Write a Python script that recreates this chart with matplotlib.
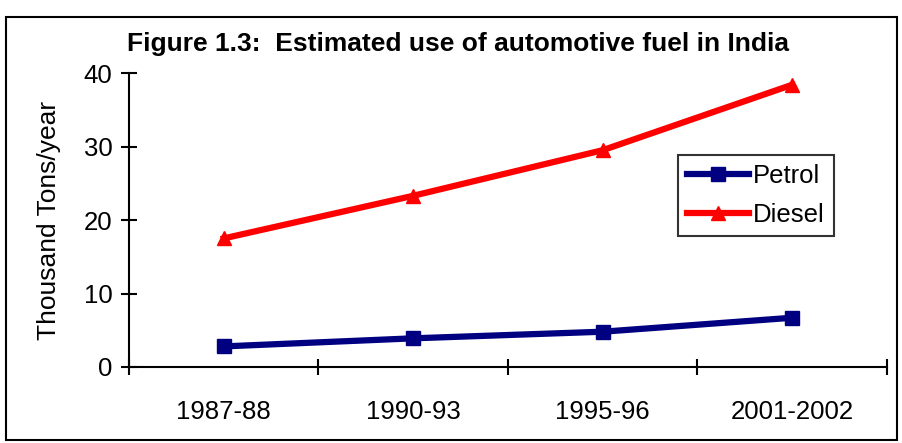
import matplotlib
matplotlib.use("Agg")
import matplotlib.pyplot as plt
from matplotlib.patches import Rectangle

plt.rcParams['font.family'] = ['Liberation Sans', 'DejaVu Sans']

years = ['1987-88', '1990-93', '1995-96', '2001-2002']
petrol = [2.8, 3.9, 4.8, 6.7]
diesel = [17.5, 23.3, 29.5, 38.4]

fig = plt.figure(figsize=(9.02, 4.43), dpi=100)
ax = fig.add_axes([0.143, 0.1716, 0.840, 0.6634])

x = list(range(len(years)))
ax.plot(x, petrol, color='#000080', lw=4.5, marker='s', ms=10, label='Petrol')
ax.plot(x, diesel, color='#FF0000', lw=4.5, marker='^', ms=10, label='Diesel')

ax.set_xlim(-0.5, len(years) - 0.5)
ax.set_ylim(0, 40)
ax.set_yticks([0, 10, 20, 30, 40])
ax.set_xticks([i - 0.5 for i in range(len(years) + 1)])
ax.set_xticklabels([])
ax.set_xticks(x, minor=True)
ax.set_xticklabels(years, minor=True)
ax.tick_params(axis='x', which='minor', length=0, pad=24, labelsize=18.5)
ax.tick_params(axis='both', which='major', direction='inout', length=12, width=1.5, labelsize=18.5)
ax.tick_params(axis='y', pad=6)

for s in ['top', 'right']:
    ax.spines[s].set_visible(False)
for s in ['left', 'bottom']:
    ax.spines[s].set_linewidth(1.5)

ax.set_ylabel('Thousand Tons/year', fontsize=19, labelpad=16)
fig.text(0.508, 0.90, 'Figure 1.3:  Estimated use of automotive fuel in India',
         ha='center', va='center', fontsize=19, fontweight='bold')

leg = ax.legend(loc='upper left', bbox_to_anchor=(0.725, 0.72), fontsize=18.5,
                frameon=True, fancybox=False, edgecolor='black', handlelength=2.4,
                handletextpad=0.15, borderpad=0.35, labelspacing=0.55, borderaxespad=0)
leg.get_frame().set_linewidth(1.5)

fig.patches.append(Rectangle((0.007, 0.007), 0.988, 0.955, transform=fig.transFigure,
                             fill=False, edgecolor='black', lw=1.5))

fig.savefig('out.png', dpi=100)
